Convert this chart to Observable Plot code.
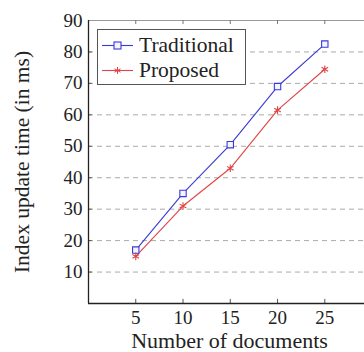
<!DOCTYPE html>
<html>
<head>
<meta charset="utf-8">
<script src="https://cdn.jsdelivr.net/npm/d3@7"></script>
<script src="https://cdn.jsdelivr.net/npm/@observablehq/plot@0.6"></script>
<style>
  html, body { margin: 0; padding: 0; background: #fff; overflow: hidden; }
  #wrap { position: relative; width: 364px; height: 352px; }
  #legend {
    position: absolute; left: 97px; top: 29px; width: 147px; height: 54px;
    border: 1px solid #555; background: #fff; color: #222;
  }
  .row { position: absolute; left: 4px; height: 24px; display: flex; align-items: center; }
  .row span { margin-left: 5px; font-family: 'Liberation Serif'; font-size: 21.5px; }
</style>
</head>
<body>
<div id="wrap"></div>
<script>
const documents = [5, 10, 15, 20, 25];
const traditional = [17, 35, 50.5, 69, 82.5];
const proposed = [15, 31, 43, 61.5, 74.5];
const seriesNames = ["Traditional", "Proposed"];
const xTicks = [5, 10, 15, 20, 25];
const yTicks = [10, 20, 30, 40, 50, 60, 70, 80, 90];

const blue = "#3a3ad6";
const red = "#e04444";
const serif = "Liberation Serif";

const rows = [];
documents.forEach((d, i) => {
  rows.push({docs: d, time: traditional[i], series: seriesNames[0]});
  rows.push({docs: d, time: proposed[i], series: seriesNames[1]});
});
const trad = rows.filter(r => r.series === "Traditional");
const prop = rows.filter(r => r.series === "Proposed");

const chart = Plot.plot({
  width: 364,
  height: 352,
  marginLeft: 88,
  marginRight: 0,
  marginTop: 20,
  marginBottom: 49,
  style: {fontFamily: serif, fontSize: "18px", color: "#222", background: "#fff"},
  x: {domain: [0, 29.2], axis: null, label: null},
  y: {domain: [0, 90], axis: null, label: null},
  marks: [
    Plot.ruleY(yTicks.filter(t => t < 90), {y: d => d, stroke: "#aaa", strokeDasharray: "5,4", strokeWidth: 1}),
    Plot.ruleY([90], {stroke: "#999", strokeWidth: 1.2}),
    Plot.ruleX(xTicks, {x: d => d, y1: 0, y2: 1.3, stroke: "#555"}),
    Plot.ruleX(xTicks, {x: d => d, y1: 88.7, y2: 90, stroke: "#777"}),
    Plot.ruleY(yTicks.filter(t => t < 90), {y: d => d, x1: 0, x2: 0.4, stroke: "#555"}),
    Plot.ruleY([0], {stroke: "#222", strokeWidth: 1.3}),
    Plot.ruleX([0], {y1: 0, y2: 90, stroke: "#222", strokeWidth: 1.3}),
    Plot.axisX(xTicks, {tickSize: 0, tickPadding: 7, fontSize: 19, fontFamily: serif, label: null}),
    Plot.axisY(yTicks, {tickSize: 0, tickPadding: 6, fontSize: 19, fontFamily: serif, label: null}),
    Plot.line(trad, {x: "docs", y: "time", stroke: blue, strokeWidth: 1.1}),
    Plot.line(prop, {x: "docs", y: "time", stroke: red, strokeWidth: 1.1}),
    Plot.dot(trad, {x: "docs", y: "time", symbol: "square", r: 3.6, stroke: blue, fill: "#f4f4ff", strokeWidth: 1.1}),
    Plot.dot(prop, {x: "docs", y: "time", symbol: "asterisk", r: 3.6, stroke: red, strokeWidth: 1.1}),
    Plot.text(["Number of documents"], {frameAnchor: "bottom", dx: 3, dy: 37, fontSize: 22, fontFamily: serif, lineAnchor: "middle", textAnchor: "middle"}),
    Plot.text(["Index update time (in ms)"], {frameAnchor: "left", dx: -66, rotate: -90, fontSize: 21.5, fontFamily: serif, lineAnchor: "middle", textAnchor: "middle"})
  ]
});

const wrap = document.getElementById("wrap");
wrap.appendChild(chart);

const legend = document.createElement("div");
legend.id = "legend";
const items = [
  {name: seriesNames[0], color: blue, sym: "square"},
  {name: seriesNames[1], color: red, sym: "star"}
];
items.forEach((it, i) => {
  const row = document.createElement("div");
  row.className = "row";
  row.style.top = (3 + i * 25) + "px";
  const mk = it.sym === "square"
    ? `<rect x="12" y="5" width="7" height="7" fill="#f4f4ff" stroke="${it.color}" stroke-width="1.1"/>`
    : `<path d="M15.5,5v7M12.5,6.8l6,3.4M12.5,10.2l6,-3.4" stroke="${it.color}" stroke-width="1"/>`;
  row.innerHTML = `<svg width="32" height="17"><line x1="0" y1="8.5" x2="31" y2="8.5" stroke="${it.color}" stroke-width="1.1"/>${mk}</svg><span>${it.name}</span>`;
  legend.appendChild(row);
});
wrap.appendChild(legend);
</script>
</body>
</html>
